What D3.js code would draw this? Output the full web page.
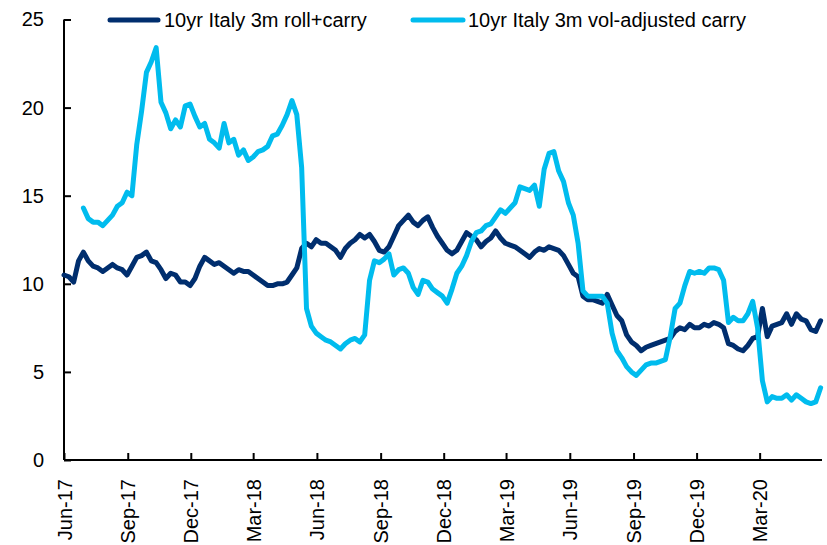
<!DOCTYPE html>
<html><head><meta charset="utf-8">
<script src="https://cdn.jsdelivr.net/npm/d3@7"></script>
<style>
html,body{margin:0;padding:0;background:#fff;}
svg{display:block;font-family:"Liberation Sans",Arial,sans-serif;}
</style></head>
<body><svg id="c" width="827" height="545"></svg>
<script>
// Weekly observations starting 1 Jun 2017
const startDate = "2017-06-01";
const seriesNames = ["10yr Italy 3m roll+carry", "10yr Italy 3m vol-adjusted carry"];
const rollCarry = [
10.5,10.4,10.1,11.3,11.8,11.3,11.0,10.9,10.7,10.9,
11.1,10.9,10.8,10.5,11.0,11.5,11.6,11.8,11.3,11.2,
10.8,10.3,10.6,10.5,10.1,10.1,9.9,10.3,11.0,11.5,
11.3,11.1,11.2,11.0,10.8,10.6,10.8,10.7,10.7,10.5,
10.3,10.1,9.9,9.9,10.0,10.0,10.1,10.5,10.9,12.0,
12.3,12.1,12.5,12.3,12.3,12.1,11.9,11.5,12.0,12.3,
12.5,12.8,12.6,12.8,12.4,11.9,11.8,12.1,12.7,13.3,
13.6,13.9,13.5,13.3,13.6,13.8,13.2,12.7,12.3,11.9,
11.7,11.9,12.4,12.9,12.7,12.5,12.1,12.4,12.6,13.0,
12.6,12.3,12.2,12.1,11.9,11.7,11.5,11.8,12.0,11.9,
12.1,12.0,11.9,11.6,11.1,10.6,10.4,9.3,9.1,9.1,
9.0,8.9,9.4,8.8,8.2,7.9,7.1,6.7,6.5,6.2,
6.4,6.5,6.6,6.7,6.8,6.9,7.3,7.5,7.4,7.7,
7.5,7.5,7.7,7.6,7.8,7.7,7.5,6.6,6.5,6.3,
6.2,6.5,6.9,7.0,8.6,7.0,7.6,7.7,7.8,8.3,
7.7,8.3,8.0,7.9,7.4,7.3,7.9
];
// vol-adjusted carry begins in week 4
const volAdjStartWeek = 4;
const volAdjCarry = [
14.3,13.7,13.5,13.5,13.3,13.6,13.9,14.4,14.6,15.2,
15.0,17.9,19.8,22.0,22.6,23.4,20.3,19.7,18.8,19.3,
18.9,20.1,20.2,19.5,18.9,19.1,18.2,18.0,17.7,19.1,
18.0,18.2,17.3,17.6,17.0,17.2,17.5,17.6,17.8,18.4,
18.5,19.0,19.6,20.4,19.6,16.6,8.6,7.6,7.2,7.0,
6.8,6.7,6.5,6.3,6.6,6.8,6.9,6.7,7.1,10.2,
11.3,11.2,11.4,11.7,10.5,10.8,10.9,10.6,9.8,9.4,
10.2,10.1,9.7,9.5,9.3,8.9,9.7,10.6,11.0,11.6,
12.4,12.9,13.0,13.3,13.4,13.8,14.2,14.0,14.3,14.6,
15.5,15.4,15.3,15.6,14.4,16.5,17.4,17.5,16.4,15.8,
14.6,13.9,12.3,9.6,9.3,9.3,9.3,9.3,8.9,7.2,
6.2,5.8,5.3,5.0,4.8,5.1,5.4,5.5,5.5,5.6,
5.7,7.0,8.6,8.9,9.9,10.7,10.6,10.7,10.6,10.9,
10.9,10.8,10.2,7.8,8.1,7.9,7.9,8.3,9.0,7.5,
4.5,3.3,3.6,3.5,3.5,3.7,3.4,3.7,3.5,3.3,
3.2,3.3,4.1
];
const yTicks = [0,5,10,15,20,25];
const xTickLabels = ["Jun-17","Sep-17","Dec-17","Mar-18","Jun-18","Sep-18","Dec-18","Mar-19","Jun-19","Sep-19","Dec-19","Mar-20"];
const colors = ["#002E6E","#00BCEE"];

(function(){
const parse = d3.timeParse("%Y-%m-%d");
const t0 = parse(startDate);
const dateOf = i => d3.timeWeek.offset(t0, i);
const dark = rollCarry.map((v,i)=>({d:dateOf(i), v}));
const light = volAdjCarry.map((v,i)=>({d:dateOf(i+volAdjStartWeek), v}));
const parseTick = d3.timeParse("%b-%y");
const tickDates = xTickLabels.map(parseTick);

const svg = d3.select("#c");
const mL = 64, mR = 822, mT = 19.5, mB = 460;
const x = d3.scaleTime().domain([t0, parse("2020-05-30")]).range([mL, mR]);
const y = d3.scaleLinear().domain([0,25]).range([mB, mT]);

const yAxis = svg.append("g").attr("transform",`translate(${mL},0)`)
  .call(d3.axisLeft(y).tickValues(yTicks).tickSize(-7).tickPadding(20).tickFormat(d3.format("d")));
yAxis.select(".domain").attr("d",`M0,${mT}V${mB}`);
const xAxis = svg.append("g").attr("transform",`translate(0,${mB})`)
  .call(d3.axisBottom(x).tickValues(tickDates).tickSize(-7).tickFormat(d3.timeFormat("%b-%y")));
xAxis.select(".domain").attr("d",`M${mL},0H${mR}`);
svg.selectAll(".domain").attr("stroke","#000").attr("stroke-width",2);
svg.selectAll(".tick line").attr("stroke","#000").attr("stroke-width",2);
svg.selectAll(".tick text").attr("fill","#000").style("font-size","20px").style("font-family","'Liberation Sans',Arial,sans-serif");
xAxis.selectAll(".tick text")
  .attr("transform","rotate(-90)")
  .attr("text-anchor","end")
  .attr("x",-19).attr("y",0).attr("dy","0.35em");

const line = d3.line().x(d=>x(d.d)).y(d=>y(d.v)).curve(d3.curveLinear);
svg.append("path").datum(dark).attr("d",line).attr("fill","none")
  .attr("stroke",colors[0]).attr("stroke-width",5).attr("stroke-linejoin","round").attr("stroke-linecap","round");
svg.append("path").datum(light).attr("d",line).attr("fill","none")
  .attr("stroke",colors[1]).attr("stroke-width",5).attr("stroke-linejoin","round").attr("stroke-linecap","round");

const legendPos = [[110,158,164],[413,463,468]];
seriesNames.forEach((n,i)=>{
  const [x1,x2,tx] = legendPos[i];
  svg.append("line").attr("x1",x1).attr("x2",x2).attr("y1",20).attr("y2",20)
    .attr("stroke",colors[i]).attr("stroke-width",5).attr("stroke-linecap","round");
  svg.append("text").attr("x",tx).attr("y",27).text(n)
    .attr("fill","#000").style("font-size","20px");
});
})();
</script></body></html>
